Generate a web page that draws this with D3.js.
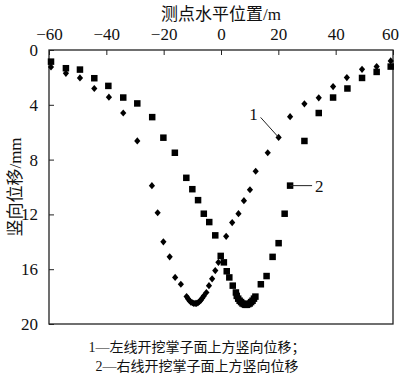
<!DOCTYPE html>
<html>
<head>
<meta charset="utf-8">
<script src="https://cdn.jsdelivr.net/npm/d3@7"></script>
<style>
  body { margin: 0; background: #fff; }
  text { font-family: "Liberation Serif", "Noto Sans CJK SC", serif; fill: #111; }
</style>
</head>
<body>
<div id="chart"></div>
<script>
// series 1: left face (diamonds)
const leftX = [-59.3, -54.1, -49.2, -44.2, -39.1, -34.1, -29.2, -24.1, -22.1, -20.1, -17.9, -16.0, -14.0,
  -12, -11.5, -11, -10.5, -10, -9.5, -9, -8.5, -8, -7.5, -7, -6.5, -6,
  -5.1, -4.2, -3.1, -2.0, -0.9, 1.8, 3.9, 6.1, 8.0, 10.1, 12.1, 16.3, 20.1, 24.1, 29.1, 34.1, 39.1, 43.9, 49.2, 54.3, 59.2];
const leftY = [1.24, 1.7, 2.04, 2.81, 3.44, 4.6, 6.64, 9.9, 11.88, 14.0, 15.1, 16.6, 17.1,
  18.0, 18.15, 18.3, 18.4, 18.45, 18.5, 18.5, 18.5, 18.45, 18.35, 18.25, 18.1, 17.95,
  17.7, 17.2, 16.7, 16.1, 15.5, 13.6, 12.6, 11.95, 11.0, 10.2, 8.85, 7.5, 6.38, 4.87, 3.93, 3.49, 2.67, 2.01, 1.41, 1.21, 0.8];

// series 2: right face (squares)
const rightX = [-59.3, -54.1, -49.2, -44.2, -39.3, -34.1, -29.2, -24.0, -20.1, -16.1, -12.1, -10.0, -8.0, -6.0, -4.1, -2.0,
  -0.1, 1.0, 2.0, 2.9, 4.1, 5.2,
  5.5, 6, 6.5, 7, 7.5, 8, 8.5, 9, 9.5, 10, 10.5, 11, 11.5, 12,
  13.9, 15.9, 18.0, 20.1, 22.2, 24.1, 29.1, 34.1, 39.1, 44.1, 49.2, 54.3, 59.2];
const rightY = [0.85, 1.33, 1.43, 2.06, 2.62, 3.47, 3.9, 4.9, 6.4, 7.5, 9.33, 10.16, 10.96, 11.95, 12.56, 13.53,
  15.03, 15.5, 16.15, 16.6, 17.2, 17.7,
  17.95, 18.15, 18.3, 18.4, 18.5, 18.55, 18.6, 18.6, 18.55, 18.5, 18.4, 18.3, 18.15, 18.0,
  17.1, 16.5, 15.1, 14.1, 11.95, 9.9, 6.64, 4.6, 3.47, 2.81, 2.04, 1.6, 1.21];

const xTicks = [-60, -40, -20, 0, 20, 40, 60];
const yTicks = [0, 4, 8, 12, 16, 20];

const xTitle = '测点水平位置/m';
const yTitle = '竖向位移/mm';
const notes = ['1—左线开挖掌子面上方竖向位移；', '2—右线开挖掌子面上方竖向位移'];

const W = 400, H = 375;
const margin = { top: 50, right: 7, bottom: 51, left: 49 };
const width = W - margin.left - margin.right;
const height = H - margin.top - margin.bottom;

const svg = d3.select('#chart').append('svg')
    .attr('width', W)
    .attr('height', H);

const g = svg.append('g')
    .attr('transform', `translate(${margin.left}, ${margin.top})`);

const x = d3.scaleLinear().domain([-60, 60]).range([0, width]);
const y = d3.scaleLinear().domain([0, 20]).range([0, height]);

// frame
g.append('rect')
    .attr('x', 0).attr('y', 0)
    .attr('width', width).attr('height', height)
    .attr('fill', 'none')
    .attr('stroke', '#222')
    .attr('stroke-width', 1.3);

const fmt = d => d < 0 ? '\u2212' + Math.abs(d) : String(d);

const xAxis = g.append('g')
    .call(d3.axisTop(x).tickValues(xTicks).tickSizeInner(-5).tickSizeOuter(0).tickPadding(10).tickFormat(fmt));
xAxis.select('.domain').remove();
xAxis.selectAll('line').attr('stroke', '#222');
xAxis.selectAll('text').style('font-size', '17px').attr('fill', '#111');
// keep the last label inside the window
xAxis.selectAll('text').filter(d => d === 60).attr('dx', '-3');

const yAxis = g.append('g')
    .call(d3.axisLeft(y).tickValues(yTicks).tickSizeInner(-5).tickSizeOuter(0).tickPadding(11));
yAxis.select('.domain').remove();
yAxis.selectAll('line').attr('stroke', '#222');
yAxis.selectAll('text').style('font-size', '17px').attr('fill', '#111');

// titles
svg.append('text')
    .attr('x', margin.left + x(0))
    .attr('y', 20)
    .attr('text-anchor', 'middle')
    .style('font-size', '17px')
    .text(xTitle);

svg.append('text')
    .attr('transform', `translate(21, ${margin.top + height / 2}) rotate(-90)`)
    .attr('text-anchor', 'middle')
    .style('font-size', '17px')
    .text(yTitle);

// markers
g.selectAll('.s1')
    .data(leftX.map((v, i) => [v, leftY[i]]))
    .enter().append('path')
    .attr('class', 's1')
    .attr('d', 'M0,-3.6L3.1,0L0,3.6L-3.1,0Z')
    .attr('transform', d => `translate(${x(d[0])}, ${y(d[1])})`)
    .attr('fill', '#000');

const sq = 6.5;
g.selectAll('.s2')
    .data(rightX.map((v, i) => [v, rightY[i]]))
    .enter().append('rect')
    .attr('class', 's2')
    .attr('x', d => x(d[0]) - sq / 2)
    .attr('y', d => y(d[1]) - sq / 2)
    .attr('width', sq).attr('height', sq)
    .attr('fill', '#000');

// labels 1 and 2
const p1 = [20.1, 6.38];
g.append('line')
    .attr('x1', x(p1[0]) - 18).attr('y1', y(p1[1]) - 20)
    .attr('x2', x(p1[0])).attr('y2', y(p1[1]))
    .attr('stroke', '#222').attr('stroke-width', 1);
g.append('text')
    .attr('x', x(p1[0]) - 25).attr('y', y(p1[1]) - 17)
    .attr('text-anchor', 'middle')
    .style('font-size', '17px')
    .text('1');

const p2 = [24.1, 9.9];
g.append('line')
    .attr('x1', x(p2[0])).attr('y1', y(p2[1]))
    .attr('x2', x(p2[0]) + 22).attr('y2', y(p2[1]))
    .attr('stroke', '#222').attr('stroke-width', 1);
g.append('text')
    .attr('x', x(p2[0]) + 25).attr('y', y(p2[1]) + 6)
    .style('font-size', '17px')
    .text('2');

// notes
notes.forEach((t, i) => {
    svg.append('text')
        .attr('x', 197)
        .attr('y', 352 + i * 19)
        .attr('text-anchor', 'middle')
        .style('font-size', '14px')
        .text(t);
});
</script>
</body>
</html>
